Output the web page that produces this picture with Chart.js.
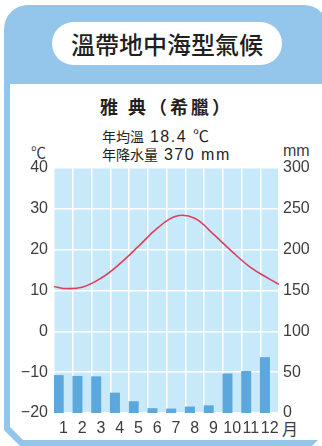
<!DOCTYPE html>
<html>
<head>
<meta charset="utf-8">
<script src="https://cdn.jsdelivr.net/npm/chart.js@4.4.1/dist/chart.umd.min.js"></script>
<style>
  html, body { margin: 0; padding: 0; background: #fff; }
  body { width: 322px; height: 446px; overflow: hidden; position: relative; font-family: "Noto Sans CJK TC", "Noto Sans", sans-serif; color: #231f20; }
  .frame { position: absolute; left: 4px; top: 5px; width: 324px; height: 441px; background: #93c6ea;
    border-radius: 24px 24px 0 0;
    clip-path: polygon(0 0, 100% 0, 100% calc(100% - 16px), calc(100% - 16px) 100%, 16px 100%, 0 calc(100% - 16px)); }
  .inner { position: absolute; left: 10px; top: 84px; width: 312px; height: 356px; background: #fff;
    clip-path: polygon(0 0, 100% 0, 100% 100%, 13px 100%, 0 calc(100% - 13px)); }
  .pill { position: absolute; left: 52px; top: 22px; width: 230px; height: 43px; border-radius: 22px; background: #fff;
    font-size: 24px; line-height: 43px; text-align: center; font-weight: 500; }
  .txt { position: absolute; white-space: nowrap; }
  .lat { font-family: "Liberation Sans", Arial, sans-serif; font-size: 16px; letter-spacing: 1.5px; }
  .cjk16 { font-size: 16px; }
  canvas { position: absolute; left: 0; top: 0; }
</style>
</head>
<body>
<div class="frame"></div>
<div class="inner"></div>
<div class="pill">溫帶地中海型氣候</div>
<div class="txt" style="left:100px; top:93px; font-size:18px; font-weight:700; line-height:26px; letter-spacing:3px;">雅 典（希臘）</div>
<div class="txt" style="left:102px; top:125px; font-size:14px; line-height:20px;">年均溫<span class="lat"> 18.4 </span><span class="cjk16">℃</span></div>
<div class="txt" style="left:102px; top:144px; font-size:14px; line-height:20px;">年降水量<span class="lat"> 370 mm</span></div>
<div class="txt" style="left:31px; top:142px; font-size:15px; line-height:20px; color:#3d3d3d;">℃</div>
<div class="txt" style="left:283px; top:141px; font-size:16px; line-height:20px; color:#3d3d3d; font-family:'Liberation Sans', Arial, sans-serif;">mm</div>
<div class="txt" style="left:282px; top:418px; font-size:16px; line-height:20px; color:#3d3d3d;">月</div>
<canvas id="c" width="322" height="446"></canvas>
<script>
const months = ["1", "2", "3", "4", "5", "6", "7", "8", "9", "10", "11", "12"];
const monthNums = [1, 2, 3, 4, 5, 6, 7, 8, 9, 10, 11, 12];
const rainfall = [46, 45, 44.5, 24.5, 14, 5.5, 5, 7.5, 9, 48, 51, 68];          // mm
const temps = [10.5, 10.8, 13.0, 16.5, 20.8, 25.2, 28.2, 27.7, 23.8, 19.5, 15.6, 12.8]; // ℃
const edgeX = [0.5, 12.5];
const edgeTemps = [11.0, 11.5]; // curve value at the left / right edge of the plot

const tempTicks = [-20, -10, 0, 10, 20, 30, 40];
const rainTicks = [0, 50, 100, 150, 200, 250, 300];

const tempPoints = [{ x: edgeX[0], y: edgeTemps[0] }]
  .concat(monthNums.map((m, i) => ({ x: m, y: temps[i] })))
  .concat([{ x: edgeX[1], y: edgeTemps[1] }]);

const tickFont = { family: "'Liberation Sans', Arial, sans-serif", size: 16 };
const tickColor = "#3d3d3d";

// light blue plot background
const plotBg = {
  id: "plotBg",
  beforeDraw(chart) {
    const a = chart.chartArea, ctx = chart.ctx;
    ctx.save();
    ctx.fillStyle = "#c8e9f9";
    ctx.fillRect(a.left, a.top, a.width, a.height);
    ctx.restore();
  }
};

// grid sits above the bars, but the temperature curve goes above the grid
const lineOnTop = {
  id: "lineOnTop",
  beforeDatasetDraw(chart, args) {
    if (args.index === 1) return false;
  },
  afterDraw(chart) {
    const a = chart.chartArea, ctx = chart.ctx;
    ctx.save();
    ctx.beginPath();
    ctx.rect(a.left, a.top, a.width, a.height);
    ctx.clip();
    chart.getDatasetMeta(1).controller.draw();
    ctx.restore();
  }
};

new Chart(document.getElementById("c").getContext("2d"), {
  type: "bar",
  data: {
    labels: months,
    datasets: [{
      type: "bar",
      data: rainfall,
      yAxisID: "yR",
      xAxisID: "x",
      backgroundColor: "#5ca8dd",
      borderWidth: 0,
      barPercentage: 1,
      categoryPercentage: 1
    }, {
      type: "line",
      data: tempPoints,
      yAxisID: "yT",
      xAxisID: "xT",
      borderColor: "#e23c5c",
      borderWidth: 1.6,
      tension: 0.4,
      pointRadius: 0,
      fill: false
    }]
  },
  options: {
    responsive: false,
    animation: false,
    devicePixelRatio: 1,
    layout: { padding: { top: 168, left: 0, right: 0, bottom: 0 } },
    plugins: { legend: { display: false }, tooltip: { enabled: false } },
    scales: {
      x: {
        type: "category",
        position: "bottom",
        offset: true,
        z: 1,
        grid: { color: "#ffffff", lineWidth: 1.5, drawTicks: false, offset: true },
        border: { display: false },
        ticks: { font: tickFont, color: tickColor, padding: 6, maxRotation: 0, autoSkip: false },
        afterFit(s) { s.height = 33; }
      },
      xT: {
        type: "linear",
        min: edgeX[0],
        max: edgeX[1],
        offset: false,
        grid: { offset: false },
        display: false
      },
      yT: {
        type: "linear",
        position: "left",
        min: -20,
        max: 40,
        z: 1,
        afterBuildTicks(s) { s.ticks = tempTicks.map(v => ({ value: v })); },
        grid: { color: "#ffffff", lineWidth: 1.5, drawTicks: false },
        border: { display: false },
        ticks: {
          font: tickFont, color: tickColor, padding: 6,
          callback: v => (v < 0 ? "\u2212" + Math.abs(v) : "" + v)
        },
        afterFit(s) { s.width = 54; }
      },
      yR: {
        type: "linear",
        position: "right",
        min: 0,
        max: 300,
        afterBuildTicks(s) { s.ticks = rainTicks.map(v => ({ value: v })); },
        grid: { display: false, drawTicks: false },
        border: { display: false },
        ticks: { font: tickFont, color: tickColor, padding: 4 },
        afterFit(s) { s.width = 43; }
      }
    }
  },
  plugins: [plotBg, lineOnTop]
});
</script>
</body>
</html>
